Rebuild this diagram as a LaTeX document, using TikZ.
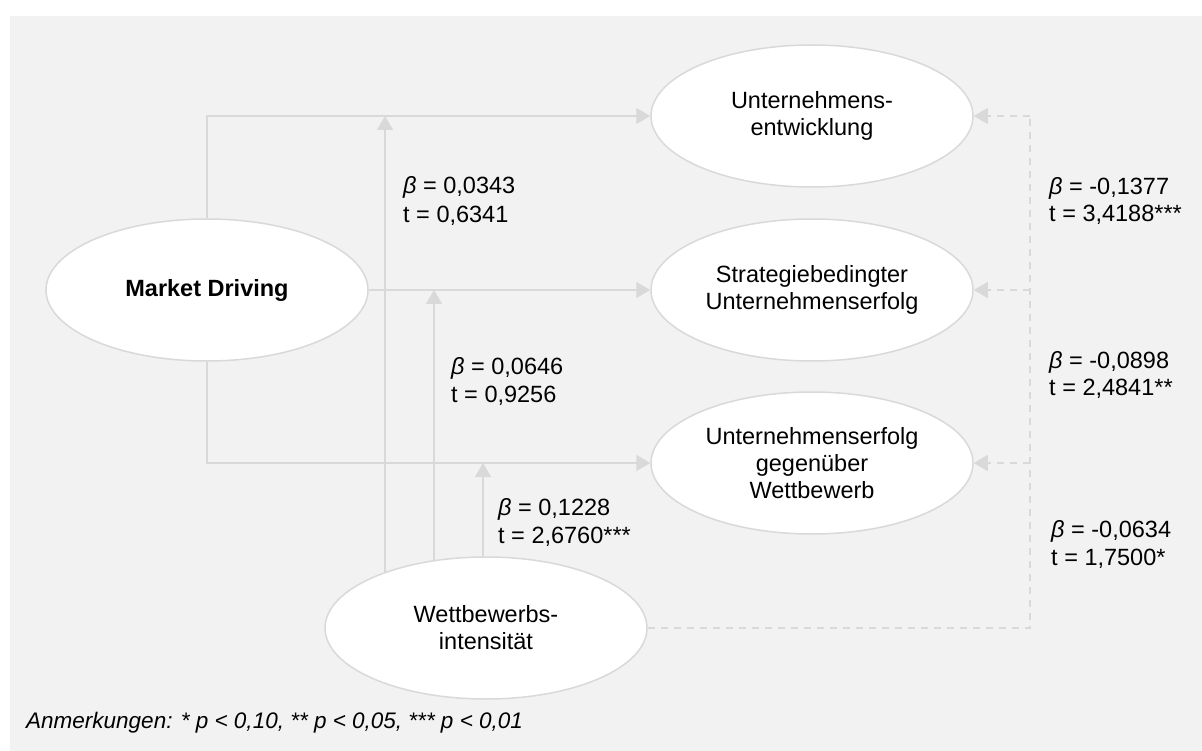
\documentclass[tikz,border=0pt]{standalone}
\usepackage{fontspec}
\setmainfont{Liberation Sans}
\usetikzlibrary{arrows.meta,shapes.geometric}
\definecolor{panel}{HTML}{F2F2F2}
\definecolor{edge}{HTML}{D9D9D9}
\pgfdeclarelayer{panel}
\pgfdeclarelayer{links}
\pgfsetlayers{panel,links,main}

\begin{document}
\begin{tikzpicture}[x=1pt,y=-1pt,
  txt/.style={font=\fontsize{23.5}{27}\selectfont, text=black},
  latent/.style={ellipse, draw=edge, line width=1.5pt, fill=white,
    minimum width=322pt, minimum height=142pt, inner sep=0pt,
    align=center, txt},
  link/.style={draw=edge, line width=1.5pt},
  arr/.style={link, -{Triangle[length=14pt,width=16pt]}},
  dlink/.style={link, dash pattern=on 7pt off 6pt},
  darr/.style={dlink, -{Triangle[length=14pt,width=16pt]}},
  coef/.style={anchor=base west, inner sep=0pt, txt}]

\useasboundingbox (0,0) rectangle (1202,751);
\begin{pgfonlayer}{panel}
  \fill[panel] (10,16) rectangle (1202,751);
\end{pgfonlayer}

% latent constructs
\node[latent] (md) at (207,290) {\textbf{Market Driving}};
\node[latent] (ue) at (812,116) {Unternehmens-\\entwicklung};
\node[latent] (su) at (812,290) {Strategiebedingter\\Unternehmenserfolg};
\node[latent] (uw) at (812,463) {Unternehmenserfolg\\gegenüber\\Wettbewerb};
\node[latent] (w)  at (486,628) {Wettbewerbs-\\intensität};

% points where the moderating paths meet the direct paths
\coordinate (m1) at (385,116);
\coordinate (m2) at (434,290);
\coordinate (m3) at (483,463);
% corner of the dashed control path
\coordinate (d1) at (1030,116);

\begin{pgfonlayer}{links}
  % direct effects
  \draw[arr] (md.north) |- (ue.west);
  \draw[arr] (md.east) -- (su.west);
  \draw[arr] (md.south) |- (uw.west);
  % moderation by competitive intensity
  \draw[arr] (w.center -| m1) -- (m1);
  \draw[arr] (w.center -| m2) -- (m2);
  \draw[arr] (w.center -| m3) -- (m3);
  % direct effects of competitive intensity
  \draw[dlink] (w.east) -| (d1);
  \draw[darr] (d1) -- (ue.east);
  \draw[darr] (d1 |- su.east) -- (su.east);
  \draw[darr] (d1 |- uw.east) -- (uw.east);
\end{pgfonlayer}

% path coefficients
\node[coef] (b1) at (403,194) {\textit{β} = 0,0343};
\node[coef] (t1) at (403,223) {t = 0,6341};
\node[coef] (b2) at (451,374) {\textit{β} = 0,0646};
\node[coef] (t2) at (451,402) {t = 0,9256};
\node[coef] (b3) at (498,515) {\textit{β} = 0,1228};
\node[coef] (t3) at (498,543) {t = 2,6760***};
\node[coef] (b4) at (1049,195) {\textit{β} = -0,1377};
\node[coef] (t4) at (1049,222) {t = 3,4188***};
\node[coef] (b5) at (1049,368) {\textit{β} = -0,0898};
\node[coef] (t5) at (1049,395) {t = 2,4841**};
\node[coef] (b6) at (1051,537) {\textit{β} = -0,0634};
\node[coef] (t6) at (1051,565) {t = 1,7500*};

\node[anchor=base west, inner sep=0pt, font=\itshape\fontsize{22.5}{27}\selectfont]
  (note) at (26,728) {Anmerkungen: * p < 0,10, ** p < 0,05, *** p < 0,01};
\end{tikzpicture}
\end{document}
